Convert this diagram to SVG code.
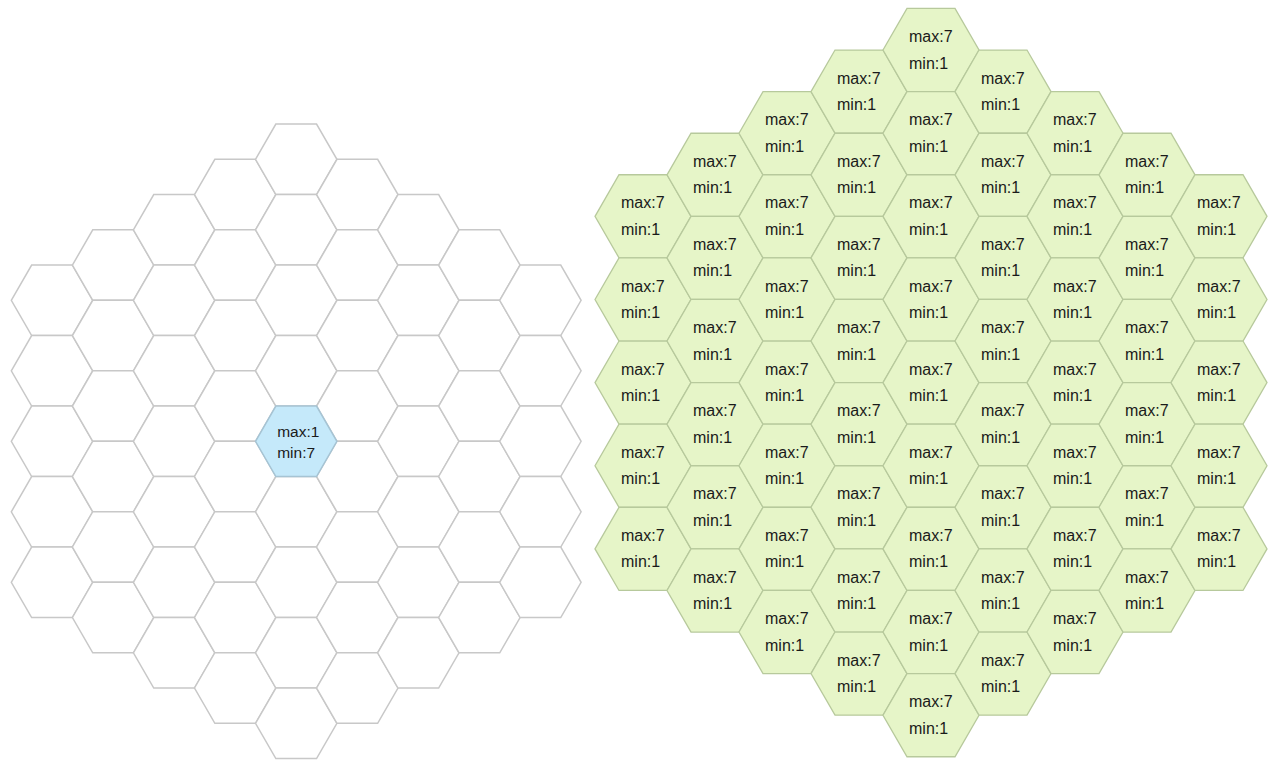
<svg xmlns="http://www.w3.org/2000/svg" width="1270" height="760" viewBox="0 0 1270 760">
<style>
.hl{fill:#ffffff;stroke:#c8c8c8;stroke-width:1.5}
.hb{fill:#c5e9fa;stroke:#a6c4d4;stroke-width:1.5}
.hr{fill:#e6f5c8;stroke:#b7c99c;stroke-width:1.3}
.t{font-family:"Liberation Sans",Arial,sans-serif;font-size:16px;fill:#1a1a1a}
.tb{font-size:15.5px}
</style>
<defs>
<polygon id="hexL" points="-40.7,0 -20.35,-35.25 20.35,-35.25 40.7,0 20.35,35.25 -20.35,35.25"/>
<polygon id="hexR" points="-48,0 -24,-41.57 24,-41.57 48,0 24,41.57 -24,41.57"/>
</defs>
<rect width="1270" height="760" fill="#ffffff"/>
<g id="left-grid">
<g id="l-m4-0"><use href="#hexL" class="hl" x="52" y="300.3"/></g>
<g id="l-m4-1"><use href="#hexL" class="hl" x="52" y="370.8"/></g>
<g id="l-m4-2"><use href="#hexL" class="hl" x="52" y="441.3"/></g>
<g id="l-m4-3"><use href="#hexL" class="hl" x="52" y="511.8"/></g>
<g id="l-m4-4"><use href="#hexL" class="hl" x="52" y="582.3"/></g>
<g id="l-m3-0"><use href="#hexL" class="hl" x="113.1" y="265.1"/></g>
<g id="l-m3-1"><use href="#hexL" class="hl" x="113.1" y="335.6"/></g>
<g id="l-m3-2"><use href="#hexL" class="hl" x="113.1" y="406.1"/></g>
<g id="l-m3-3"><use href="#hexL" class="hl" x="113.1" y="476.5"/></g>
<g id="l-m3-4"><use href="#hexL" class="hl" x="113.1" y="547.0"/></g>
<g id="l-m3-5"><use href="#hexL" class="hl" x="113.1" y="617.5"/></g>
<g id="l-m2-0"><use href="#hexL" class="hl" x="174.1" y="229.8"/></g>
<g id="l-m2-1"><use href="#hexL" class="hl" x="174.1" y="300.3"/></g>
<g id="l-m2-2"><use href="#hexL" class="hl" x="174.1" y="370.8"/></g>
<g id="l-m2-3"><use href="#hexL" class="hl" x="174.1" y="441.3"/></g>
<g id="l-m2-4"><use href="#hexL" class="hl" x="174.1" y="511.8"/></g>
<g id="l-m2-5"><use href="#hexL" class="hl" x="174.1" y="582.3"/></g>
<g id="l-m2-6"><use href="#hexL" class="hl" x="174.1" y="652.8"/></g>
<g id="l-m1-0"><use href="#hexL" class="hl" x="235.2" y="194.6"/></g>
<g id="l-m1-1"><use href="#hexL" class="hl" x="235.2" y="265.1"/></g>
<g id="l-m1-2"><use href="#hexL" class="hl" x="235.2" y="335.6"/></g>
<g id="l-m1-3"><use href="#hexL" class="hl" x="235.2" y="406.1"/></g>
<g id="l-m1-4"><use href="#hexL" class="hl" x="235.2" y="476.5"/></g>
<g id="l-m1-5"><use href="#hexL" class="hl" x="235.2" y="547.0"/></g>
<g id="l-m1-6"><use href="#hexL" class="hl" x="235.2" y="617.5"/></g>
<g id="l-m1-7"><use href="#hexL" class="hl" x="235.2" y="688.0"/></g>
<g id="l-0-0"><use href="#hexL" class="hl" x="296.2" y="159.3"/></g>
<g id="l-0-1"><use href="#hexL" class="hl" x="296.2" y="229.8"/></g>
<g id="l-0-2"><use href="#hexL" class="hl" x="296.2" y="300.3"/></g>
<g id="l-0-3"><use href="#hexL" class="hl" x="296.2" y="370.8"/></g>
<g id="l-0-5"><use href="#hexL" class="hl" x="296.2" y="511.8"/></g>
<g id="l-0-6"><use href="#hexL" class="hl" x="296.2" y="582.3"/></g>
<g id="l-0-7"><use href="#hexL" class="hl" x="296.2" y="652.8"/></g>
<g id="l-0-8"><use href="#hexL" class="hl" x="296.2" y="723.3"/></g>
<g id="l-p1-0"><use href="#hexL" class="hl" x="357.3" y="194.6"/></g>
<g id="l-p1-1"><use href="#hexL" class="hl" x="357.3" y="265.1"/></g>
<g id="l-p1-2"><use href="#hexL" class="hl" x="357.3" y="335.6"/></g>
<g id="l-p1-3"><use href="#hexL" class="hl" x="357.3" y="406.1"/></g>
<g id="l-p1-4"><use href="#hexL" class="hl" x="357.3" y="476.5"/></g>
<g id="l-p1-5"><use href="#hexL" class="hl" x="357.3" y="547.0"/></g>
<g id="l-p1-6"><use href="#hexL" class="hl" x="357.3" y="617.5"/></g>
<g id="l-p1-7"><use href="#hexL" class="hl" x="357.3" y="688.0"/></g>
<g id="l-p2-0"><use href="#hexL" class="hl" x="418.3" y="229.8"/></g>
<g id="l-p2-1"><use href="#hexL" class="hl" x="418.3" y="300.3"/></g>
<g id="l-p2-2"><use href="#hexL" class="hl" x="418.3" y="370.8"/></g>
<g id="l-p2-3"><use href="#hexL" class="hl" x="418.3" y="441.3"/></g>
<g id="l-p2-4"><use href="#hexL" class="hl" x="418.3" y="511.8"/></g>
<g id="l-p2-5"><use href="#hexL" class="hl" x="418.3" y="582.3"/></g>
<g id="l-p2-6"><use href="#hexL" class="hl" x="418.3" y="652.8"/></g>
<g id="l-p3-0"><use href="#hexL" class="hl" x="479.4" y="265.1"/></g>
<g id="l-p3-1"><use href="#hexL" class="hl" x="479.4" y="335.6"/></g>
<g id="l-p3-2"><use href="#hexL" class="hl" x="479.4" y="406.1"/></g>
<g id="l-p3-3"><use href="#hexL" class="hl" x="479.4" y="476.5"/></g>
<g id="l-p3-4"><use href="#hexL" class="hl" x="479.4" y="547.0"/></g>
<g id="l-p3-5"><use href="#hexL" class="hl" x="479.4" y="617.5"/></g>
<g id="l-p4-0"><use href="#hexL" class="hl" x="540.4" y="300.3"/></g>
<g id="l-p4-1"><use href="#hexL" class="hl" x="540.4" y="370.8"/></g>
<g id="l-p4-2"><use href="#hexL" class="hl" x="540.4" y="441.3"/></g>
<g id="l-p4-3"><use href="#hexL" class="hl" x="540.4" y="511.8"/></g>
<g id="l-p4-4"><use href="#hexL" class="hl" x="540.4" y="582.3"/></g>
<g id="l-0-4"><use href="#hexL" class="hb" x="296.2" y="441.3"/><text class="t tb" x="277.2" y="437">max:1<tspan x="277.2" dy="20.5">min:7</tspan></text></g>
</g>
<g id="right-grid">
<g id="r-m4-0"><use href="#hexR" class="hr" x="643" y="216.3"/><text class="t" x="621" y="208.3">max:7<tspan x="621" dy="26.5">min:1</tspan></text></g>
<g id="r-m4-1"><use href="#hexR" class="hr" x="643" y="299.5"/><text class="t" x="621" y="291.5">max:7<tspan x="621" dy="26.5">min:1</tspan></text></g>
<g id="r-m4-2"><use href="#hexR" class="hr" x="643" y="382.6"/><text class="t" x="621" y="374.6">max:7<tspan x="621" dy="26.5">min:1</tspan></text></g>
<g id="r-m4-3"><use href="#hexR" class="hr" x="643" y="465.7"/><text class="t" x="621" y="457.7">max:7<tspan x="621" dy="26.5">min:1</tspan></text></g>
<g id="r-m4-4"><use href="#hexR" class="hr" x="643" y="548.9"/><text class="t" x="621" y="540.9">max:7<tspan x="621" dy="26.5">min:1</tspan></text></g>
<g id="r-m3-0"><use href="#hexR" class="hr" x="715" y="174.8"/><text class="t" x="693" y="166.8">max:7<tspan x="693" dy="26.5">min:1</tspan></text></g>
<g id="r-m3-1"><use href="#hexR" class="hr" x="715" y="257.9"/><text class="t" x="693" y="249.9">max:7<tspan x="693" dy="26.5">min:1</tspan></text></g>
<g id="r-m3-2"><use href="#hexR" class="hr" x="715" y="341.0"/><text class="t" x="693" y="333.0">max:7<tspan x="693" dy="26.5">min:1</tspan></text></g>
<g id="r-m3-3"><use href="#hexR" class="hr" x="715" y="424.2"/><text class="t" x="693" y="416.2">max:7<tspan x="693" dy="26.5">min:1</tspan></text></g>
<g id="r-m3-4"><use href="#hexR" class="hr" x="715" y="507.3"/><text class="t" x="693" y="499.3">max:7<tspan x="693" dy="26.5">min:1</tspan></text></g>
<g id="r-m3-5"><use href="#hexR" class="hr" x="715" y="590.5"/><text class="t" x="693" y="582.5">max:7<tspan x="693" dy="26.5">min:1</tspan></text></g>
<g id="r-m2-0"><use href="#hexR" class="hr" x="787" y="133.2"/><text class="t" x="765" y="125.2">max:7<tspan x="765" dy="26.5">min:1</tspan></text></g>
<g id="r-m2-1"><use href="#hexR" class="hr" x="787" y="216.3"/><text class="t" x="765" y="208.3">max:7<tspan x="765" dy="26.5">min:1</tspan></text></g>
<g id="r-m2-2"><use href="#hexR" class="hr" x="787" y="299.5"/><text class="t" x="765" y="291.5">max:7<tspan x="765" dy="26.5">min:1</tspan></text></g>
<g id="r-m2-3"><use href="#hexR" class="hr" x="787" y="382.6"/><text class="t" x="765" y="374.6">max:7<tspan x="765" dy="26.5">min:1</tspan></text></g>
<g id="r-m2-4"><use href="#hexR" class="hr" x="787" y="465.7"/><text class="t" x="765" y="457.7">max:7<tspan x="765" dy="26.5">min:1</tspan></text></g>
<g id="r-m2-5"><use href="#hexR" class="hr" x="787" y="548.9"/><text class="t" x="765" y="540.9">max:7<tspan x="765" dy="26.5">min:1</tspan></text></g>
<g id="r-m2-6"><use href="#hexR" class="hr" x="787" y="632.0"/><text class="t" x="765" y="624.0">max:7<tspan x="765" dy="26.5">min:1</tspan></text></g>
<g id="r-m1-0"><use href="#hexR" class="hr" x="859" y="91.6"/><text class="t" x="837" y="83.6">max:7<tspan x="837" dy="26.5">min:1</tspan></text></g>
<g id="r-m1-1"><use href="#hexR" class="hr" x="859" y="174.8"/><text class="t" x="837" y="166.8">max:7<tspan x="837" dy="26.5">min:1</tspan></text></g>
<g id="r-m1-2"><use href="#hexR" class="hr" x="859" y="257.9"/><text class="t" x="837" y="249.9">max:7<tspan x="837" dy="26.5">min:1</tspan></text></g>
<g id="r-m1-3"><use href="#hexR" class="hr" x="859" y="341.0"/><text class="t" x="837" y="333.0">max:7<tspan x="837" dy="26.5">min:1</tspan></text></g>
<g id="r-m1-4"><use href="#hexR" class="hr" x="859" y="424.2"/><text class="t" x="837" y="416.2">max:7<tspan x="837" dy="26.5">min:1</tspan></text></g>
<g id="r-m1-5"><use href="#hexR" class="hr" x="859" y="507.3"/><text class="t" x="837" y="499.3">max:7<tspan x="837" dy="26.5">min:1</tspan></text></g>
<g id="r-m1-6"><use href="#hexR" class="hr" x="859" y="590.5"/><text class="t" x="837" y="582.5">max:7<tspan x="837" dy="26.5">min:1</tspan></text></g>
<g id="r-m1-7"><use href="#hexR" class="hr" x="859" y="673.6"/><text class="t" x="837" y="665.6">max:7<tspan x="837" dy="26.5">min:1</tspan></text></g>
<g id="r-0-0"><use href="#hexR" class="hr" x="931" y="50.0"/><text class="t" x="909" y="42.0">max:7<tspan x="909" dy="26.5">min:1</tspan></text></g>
<g id="r-0-1"><use href="#hexR" class="hr" x="931" y="133.2"/><text class="t" x="909" y="125.2">max:7<tspan x="909" dy="26.5">min:1</tspan></text></g>
<g id="r-0-2"><use href="#hexR" class="hr" x="931" y="216.3"/><text class="t" x="909" y="208.3">max:7<tspan x="909" dy="26.5">min:1</tspan></text></g>
<g id="r-0-3"><use href="#hexR" class="hr" x="931" y="299.5"/><text class="t" x="909" y="291.5">max:7<tspan x="909" dy="26.5">min:1</tspan></text></g>
<g id="r-0-4"><use href="#hexR" class="hr" x="931" y="382.6"/><text class="t" x="909" y="374.6">max:7<tspan x="909" dy="26.5">min:1</tspan></text></g>
<g id="r-0-5"><use href="#hexR" class="hr" x="931" y="465.7"/><text class="t" x="909" y="457.7">max:7<tspan x="909" dy="26.5">min:1</tspan></text></g>
<g id="r-0-6"><use href="#hexR" class="hr" x="931" y="548.9"/><text class="t" x="909" y="540.9">max:7<tspan x="909" dy="26.5">min:1</tspan></text></g>
<g id="r-0-7"><use href="#hexR" class="hr" x="931" y="632.0"/><text class="t" x="909" y="624.0">max:7<tspan x="909" dy="26.5">min:1</tspan></text></g>
<g id="r-0-8"><use href="#hexR" class="hr" x="931" y="715.2"/><text class="t" x="909" y="707.2">max:7<tspan x="909" dy="26.5">min:1</tspan></text></g>
<g id="r-p1-0"><use href="#hexR" class="hr" x="1003" y="91.6"/><text class="t" x="981" y="83.6">max:7<tspan x="981" dy="26.5">min:1</tspan></text></g>
<g id="r-p1-1"><use href="#hexR" class="hr" x="1003" y="174.8"/><text class="t" x="981" y="166.8">max:7<tspan x="981" dy="26.5">min:1</tspan></text></g>
<g id="r-p1-2"><use href="#hexR" class="hr" x="1003" y="257.9"/><text class="t" x="981" y="249.9">max:7<tspan x="981" dy="26.5">min:1</tspan></text></g>
<g id="r-p1-3"><use href="#hexR" class="hr" x="1003" y="341.0"/><text class="t" x="981" y="333.0">max:7<tspan x="981" dy="26.5">min:1</tspan></text></g>
<g id="r-p1-4"><use href="#hexR" class="hr" x="1003" y="424.2"/><text class="t" x="981" y="416.2">max:7<tspan x="981" dy="26.5">min:1</tspan></text></g>
<g id="r-p1-5"><use href="#hexR" class="hr" x="1003" y="507.3"/><text class="t" x="981" y="499.3">max:7<tspan x="981" dy="26.5">min:1</tspan></text></g>
<g id="r-p1-6"><use href="#hexR" class="hr" x="1003" y="590.5"/><text class="t" x="981" y="582.5">max:7<tspan x="981" dy="26.5">min:1</tspan></text></g>
<g id="r-p1-7"><use href="#hexR" class="hr" x="1003" y="673.6"/><text class="t" x="981" y="665.6">max:7<tspan x="981" dy="26.5">min:1</tspan></text></g>
<g id="r-p2-0"><use href="#hexR" class="hr" x="1075" y="133.2"/><text class="t" x="1053" y="125.2">max:7<tspan x="1053" dy="26.5">min:1</tspan></text></g>
<g id="r-p2-1"><use href="#hexR" class="hr" x="1075" y="216.3"/><text class="t" x="1053" y="208.3">max:7<tspan x="1053" dy="26.5">min:1</tspan></text></g>
<g id="r-p2-2"><use href="#hexR" class="hr" x="1075" y="299.5"/><text class="t" x="1053" y="291.5">max:7<tspan x="1053" dy="26.5">min:1</tspan></text></g>
<g id="r-p2-3"><use href="#hexR" class="hr" x="1075" y="382.6"/><text class="t" x="1053" y="374.6">max:7<tspan x="1053" dy="26.5">min:1</tspan></text></g>
<g id="r-p2-4"><use href="#hexR" class="hr" x="1075" y="465.7"/><text class="t" x="1053" y="457.7">max:7<tspan x="1053" dy="26.5">min:1</tspan></text></g>
<g id="r-p2-5"><use href="#hexR" class="hr" x="1075" y="548.9"/><text class="t" x="1053" y="540.9">max:7<tspan x="1053" dy="26.5">min:1</tspan></text></g>
<g id="r-p2-6"><use href="#hexR" class="hr" x="1075" y="632.0"/><text class="t" x="1053" y="624.0">max:7<tspan x="1053" dy="26.5">min:1</tspan></text></g>
<g id="r-p3-0"><use href="#hexR" class="hr" x="1147" y="174.8"/><text class="t" x="1125" y="166.8">max:7<tspan x="1125" dy="26.5">min:1</tspan></text></g>
<g id="r-p3-1"><use href="#hexR" class="hr" x="1147" y="257.9"/><text class="t" x="1125" y="249.9">max:7<tspan x="1125" dy="26.5">min:1</tspan></text></g>
<g id="r-p3-2"><use href="#hexR" class="hr" x="1147" y="341.0"/><text class="t" x="1125" y="333.0">max:7<tspan x="1125" dy="26.5">min:1</tspan></text></g>
<g id="r-p3-3"><use href="#hexR" class="hr" x="1147" y="424.2"/><text class="t" x="1125" y="416.2">max:7<tspan x="1125" dy="26.5">min:1</tspan></text></g>
<g id="r-p3-4"><use href="#hexR" class="hr" x="1147" y="507.3"/><text class="t" x="1125" y="499.3">max:7<tspan x="1125" dy="26.5">min:1</tspan></text></g>
<g id="r-p3-5"><use href="#hexR" class="hr" x="1147" y="590.5"/><text class="t" x="1125" y="582.5">max:7<tspan x="1125" dy="26.5">min:1</tspan></text></g>
<g id="r-p4-0"><use href="#hexR" class="hr" x="1219" y="216.3"/><text class="t" x="1197" y="208.3">max:7<tspan x="1197" dy="26.5">min:1</tspan></text></g>
<g id="r-p4-1"><use href="#hexR" class="hr" x="1219" y="299.5"/><text class="t" x="1197" y="291.5">max:7<tspan x="1197" dy="26.5">min:1</tspan></text></g>
<g id="r-p4-2"><use href="#hexR" class="hr" x="1219" y="382.6"/><text class="t" x="1197" y="374.6">max:7<tspan x="1197" dy="26.5">min:1</tspan></text></g>
<g id="r-p4-3"><use href="#hexR" class="hr" x="1219" y="465.7"/><text class="t" x="1197" y="457.7">max:7<tspan x="1197" dy="26.5">min:1</tspan></text></g>
<g id="r-p4-4"><use href="#hexR" class="hr" x="1219" y="548.9"/><text class="t" x="1197" y="540.9">max:7<tspan x="1197" dy="26.5">min:1</tspan></text></g>
</g>
<g id="connectors"/>
</svg>
